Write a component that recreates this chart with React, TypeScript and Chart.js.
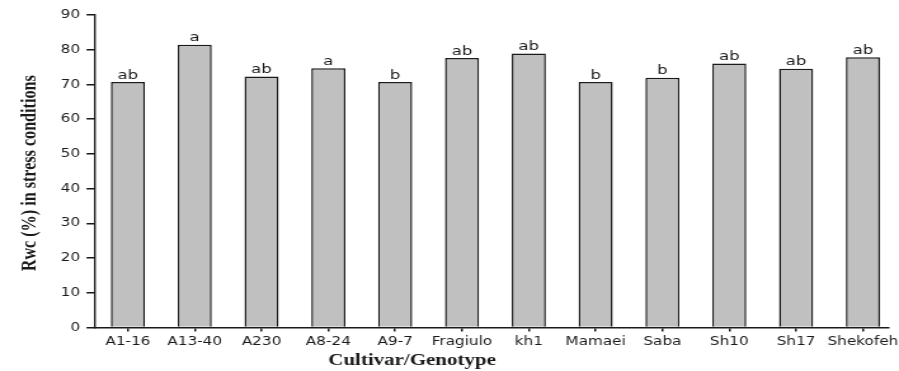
import { useEffect, useRef } from 'react';
import { Chart, registerables } from 'chart.js';

Chart.register(...registerables);

// Relative water content under stress, per cultivar / genotype
const cultivars = ['A1-16', 'A13-40', 'A230', 'A8-24', 'A9-7', 'Fragiulo', 'kh1', 'Mamaei', 'Saba', 'Sh10', 'Sh17', 'Shekofeh'];
const rwcStress = [70.7, 81.4, 72.3, 74.7, 70.7, 77.6, 78.9, 70.7, 71.9, 76.0, 74.5, 77.8];
const meanGroups = ['ab', 'a', 'ab', 'a', 'b', 'ab', 'ab', 'b', 'b', 'ab', 'ab', 'ab'];

const yMin = 0;
const yMax = 90;
const yStep = 10;

const xTitle = 'Cultivar/Genotype';
const yTitle = 'Rwc (%) in stress conditions';

// The canvas is drawn narrower than it is displayed, giving the wide lettering of the figure.
const DRAW_W = 708;
const DRAW_H = 371;
const SHOW_W = 899;
const SHOW_H = 371;

const INK = '#1a1a1a';
const SANS = '"DejaVu Sans", Verdana, sans-serif';
const SERIF = '"Liberation Serif", "Times New Roman", serif';

const labelsPlugin = {
  id: 'rwcLabels',
  afterDatasetsDraw(chart: any) {
    const ctx = chart.ctx as CanvasRenderingContext2D;
    const meta = chart.getDatasetMeta(0);
    ctx.save();
    ctx.font = `13px ${SANS}`;
    ctx.fillStyle = INK;
    ctx.textAlign = 'center';
    ctx.textBaseline = 'alphabetic';
    meta.data.forEach((bar: any, i: number) => {
      ctx.fillText(meanGroups[i], bar.x, bar.y - 3.5);
    });
    ctx.restore();
  },
  afterDraw(chart: any) {
    const ctx = chart.ctx as CanvasRenderingContext2D;
    const area = chart.chartArea;

    // x-axis title
    ctx.save();
    ctx.font = `bold 16.5px ${SERIF}`;
    ctx.fillStyle = INK;
    ctx.textAlign = 'center';
    ctx.textBaseline = 'alphabetic';
    ctx.fillText(xTitle, 324.5, 365);
    ctx.restore();

    // y-axis title, rotated and fitted to its length
    ctx.save();
    ctx.font = `bold 16px ${SERIF}`;
    ctx.fillStyle = INK;
    ctx.textAlign = 'center';
    ctx.textBaseline = 'alphabetic';
    const w = ctx.measureText(yTitle).width;
    const k = 196 / w;
    ctx.translate(27.8, (area.top + area.bottom) / 2 + 2);
    ctx.rotate(-Math.PI / 2);
    ctx.scale(k, 1);
    ctx.fillText(yTitle, 0, 0);
    ctx.restore();
  },
};

export default function App() {
  const canvasRef = useRef<HTMLCanvasElement | null>(null);

  useEffect(() => {
    const canvas = canvasRef.current;
    if (!canvas) return;
    const chart = new Chart(canvas, {
      type: 'bar',
      data: {
        datasets: [
          {
            label: 'RWC',
            data: rwcStress.map((v, i) => ({ x: i, y: v })),
            backgroundColor: '#c0c0c0',
            borderColor: INK,
            borderWidth: 1.5,
            barPercentage: 0.51,
            categoryPercentage: 1,
          },
        ],
      },
      options: {
        responsive: false,
        animation: false,
        devicePixelRatio: 1,
        layout: { padding: { top: 15, right: 8.7, bottom: 0, left: 0 } },
        plugins: {
          legend: { display: false },
          tooltip: { enabled: false },
          title: { display: false },
        },
        scales: {
          x: {
            type: 'linear',
            min: -0.5,
            max: 11.375,
            bounds: 'data',
            offset: false,
            afterBuildTicks(scale: any) {
              scale.ticks = cultivars.map((_, i) => ({ value: i }));
            },
            afterFit(scale: any) {
              scale.height = DRAW_H - 327.5;
              scale.paddingLeft = 0;
              scale.paddingRight = 0;
            },
            grid: {
              offset: false,
              drawOnChartArea: false,
              drawTicks: true,
              tickLength: 4,
              color: INK,
              lineWidth: 1.5,
            },
            border: { display: true, color: INK, width: 1.6 },
            ticks: {
              autoSkip: false,
              maxRotation: 0,
              minRotation: 0,
              padding: 3,
              color: INK,
              font: { family: SANS, size: 12 },
              callback: (value: any) => cultivars[Math.round(value)] ?? '',
            },
          },
          y: {
            min: yMin,
            max: yMax,
            afterFit(scale: any) {
              scale.width = 74.4;
              scale.paddingTop = 0;
              scale.paddingBottom = 0;
            },
            grid: {
              drawOnChartArea: false,
              drawTicks: true,
              tickLength: 6.3,
              color: INK,
              lineWidth: 1.5,
            },
            border: { display: true, color: INK, width: 1.4 },
            ticks: {
              stepSize: yStep,
              padding: 5,
              color: INK,
              font: { family: SANS, size: 12 },
            },
          },
        },
      },
      plugins: [labelsPlugin],
    });
    return () => chart.destroy();
  }, []);

  return (
    <div style={{ position: 'fixed', left: 0, top: 0, width: SHOW_W, height: SHOW_H, background: '#fff' }}>
      <canvas
        ref={canvasRef}
        width={DRAW_W}
        height={DRAW_H}
        style={{ width: `${SHOW_W}px`, height: `${SHOW_H}px`, display: 'block' }}
      />
    </div>
  );
}
